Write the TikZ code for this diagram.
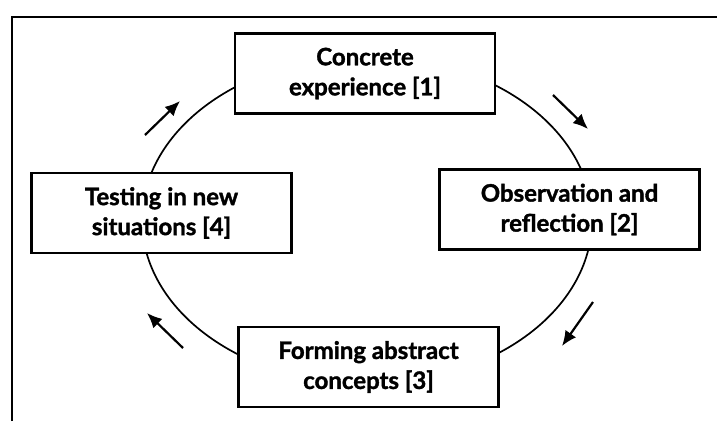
\documentclass[tikz,border=0pt]{standalone}
\usepackage{fontspec}
\setmainfont{Lato}
\usepackage{tikz}
\usetikzlibrary{arrows.meta,positioning,calc}

\begin{document}
\begin{tikzpicture}[
    x=1pt, y=-1pt,
    stage/.style={rectangle, draw=black, line width=2.5pt, fill=white, minimum width=260pt, minimum height=80pt, align=center, font=\fontsize{24}{30}\selectfont\bfseries\addfontfeature{FakeBold=1.5}},
    arrow/.style={-{Latex[length=15pt,width=13pt]}, line width=2.2pt}
]
    \useasboundingbox (0,0) rectangle (717,421);
    % frame
    \draw[line width=2pt] (12,421) -- (12,17) -- (717,17);
    % cycle
    \coordinate (centre) at (367,220);
    \draw[line width=1.7pt] (centre) ellipse [x radius=225, y radius=164];

    \node[stage] (concrete) at (365,73.5) {Concrete\\experience [1]};
    \node[stage] (observe) at (569.5,209.5) {Observation and\\reflection [2]};
    \node[stage] (forming) at (368.5,367) {Forming abstract\\concepts [3]};
    \node[stage] (testing) at (161.5,213) {Testing in new\\situations [4]};

    \draw[arrow] (145,135) -- (180,101);
    \draw[arrow] (553,95) -- (588,129);
    \draw[arrow] (593,302) -- (562,346);
    \draw[arrow] (183,348) -- (147,313);
\end{tikzpicture}
\end{document}
